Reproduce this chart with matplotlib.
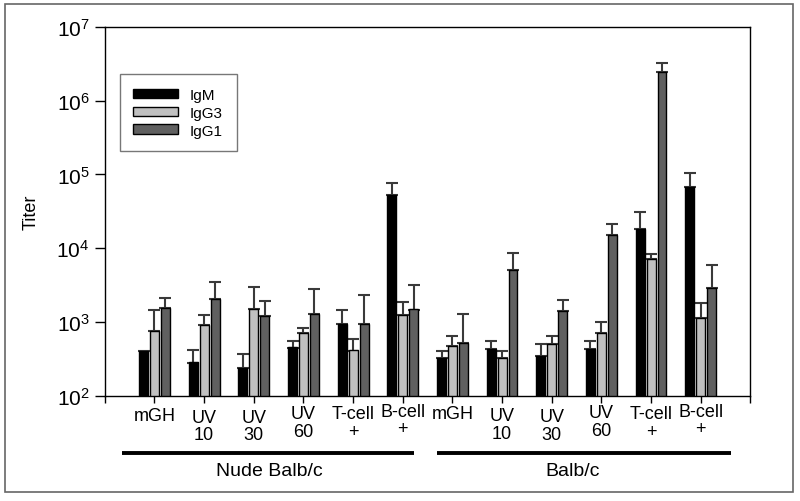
import matplotlib
matplotlib.use('Agg')
import matplotlib.pyplot as plt
import matplotlib.transforms as mtransforms
from matplotlib.patches import Rectangle
import numpy as np

plt.rcParams['font.family'] = ['Liberation Sans', 'DejaVu Sans']
plt.rcParams['mathtext.fontset'] = 'custom'
plt.rcParams['mathtext.rm'] = 'Liberation Sans'

# data (titers, upper error bar tops)
labels = ['mGH', 'UV\n10', 'UV\n30', 'UV\n60', 'T-cell\n+', 'B-cell\n+',
          'mGH', 'UV\n10', 'UV\n30', 'UV\n60', 'T-cell\n+', 'B-cell\n+']
series = ['IgM', 'IgG3', 'IgG1']
igm = [407, 281, 236, 449, 922, 52100, 324, 428, 347, 424, 18100, 68700]
igm_top = [np.nan, 414, 369, 558, 1429, 77600, 398, 545, 500, 545, 31400, 104000]
igg3 = [757, 904, 1507, 703, 408, 1248, 466, 324, 500, 700, 7080, 1120]
igg3_top = [1472, 1248, 2999, 839, 594, 1875, 637, 398, 637, 998, 8370, 1790]
igg1 = [1550, 2013, 1186, 1262, 942, 1472, 521, 5070, 1394, 15300, 2430000, 2890]
igg1_top = [2140, 3425, 1914, 2816, 2285, 3119, 1280, 8550, 1986, 21600, 3220000, 5980]
groups = ['Nude Balb/c', 'Balb/c']

colors = ['#000000', '#c0c0c0', '#606060']
vals = [igm, igg3, igg1]
tops = [igm_top, igg3_top, igg1_top]

fig = plt.figure(figsize=(8, 5.02), dpi=100)
ax = fig.add_axes([0.131, 0.210, 0.807, 0.734])

x = np.arange(1, len(labels) + 1)
w = 0.18
offs = [-0.22, 0.0, 0.22]
for v, t, c, o, name in zip(vals, tops, colors, offs, series):
    v = np.array(v, float)
    t = np.array(t, float)
    ax.bar(x + o, v, w, bottom=1, color=c, edgecolor='black', linewidth=1, label=name, zorder=2)
    ax.errorbar(x + o, v, yerr=[np.zeros_like(v), t - v], fmt='none', ecolor='#3a3a3a',
                elinewidth=1.5, capsize=4.6, capthick=1.5, zorder=1)

ax.set_yscale('log')
ax.set_ylim(100, 1e7)
ax.set_xlim(0, 13)
ax.set_yticks([1e2, 1e3, 1e4, 1e5, 1e6, 1e7])
ax.set_yticklabels([r'$\mathregular{10^{%d}}$' % k for k in range(2, 8)])
ax.minorticks_off()
ax.tick_params(axis='y', direction='out', length=7, width=1, labelsize=15, pad=4)
ax.set_xticks(np.concatenate([[0], x, [13]]))
ax.set_xticklabels([''] * (len(x) + 2))
ax.tick_params(axis='x', direction='out', length=5, width=1)
for s in ax.spines.values():
    s.set_linewidth(1)
ax.set_ylabel('Titer', fontsize=13, labelpad=12)

# category labels under the ticks
trans = mtransforms.blended_transform_factory(ax.transData, ax.transAxes)
dy = [8, 9.5, 9.5, 7, 7, 5, 6.5, 8.5, 9, 6, 7, 5]
for xi, lab, d in zip(x, labels, dy):
    ax.annotate(lab, xy=(xi, 0), xycoords=trans, xytext=(0, -d), textcoords='offset points',
                ha='center', va='top', fontsize=13, linespacing=1.05)

# group bars and names
ax.plot([0.34, 6.22], [-0.156, -0.156], transform=trans, color='black', lw=2.8, clip_on=False,
        solid_capstyle='butt')
ax.plot([6.68, 12.6], [-0.156, -0.156], transform=trans, color='black', lw=2.8, clip_on=False,
        solid_capstyle='butt')
ax.text(3.32, -0.202, groups[0], transform=trans, ha='center', va='center', fontsize=14)
ax.text(9.42, -0.202, groups[1], transform=trans, ha='center', va='center', fontsize=14)

leg = ax.legend(loc='upper left', bbox_to_anchor=(0.023, 0.872), borderaxespad=0,
                fancybox=False, frameon=True, fontsize=11, handlelength=2.9,
                handleheight=0.6, labelspacing=0.25, borderpad=0.9, handletextpad=0.8)
leg.get_frame().set_edgecolor('#555555')
leg.get_frame().set_linewidth(1)

# outer frame around the figure
fig.patches.append(Rectangle((0.006, 0.018), 0.985, 0.972, transform=fig.transFigure,
                             fill=False, edgecolor='#666666', linewidth=1.2))

fig.savefig('out.png', dpi=100)
